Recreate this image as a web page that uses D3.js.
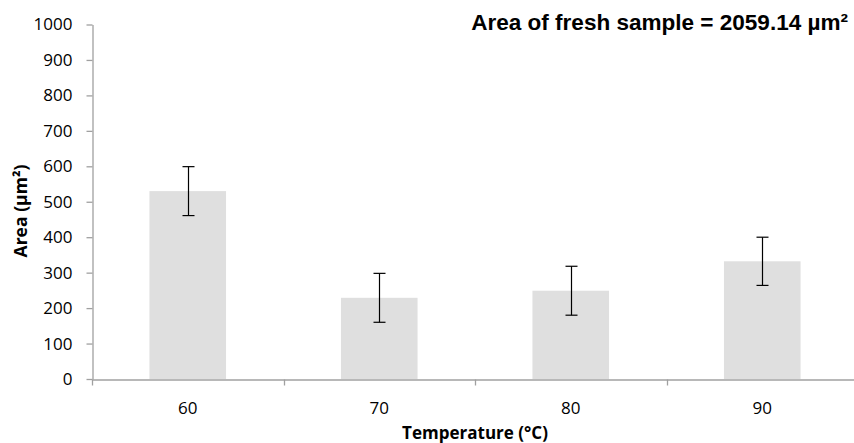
<!DOCTYPE html>
<html lang="en">
    <head>
        <meta charset="utf-8">
        <title>Area vs Temperature</title>
        <script src="https://cdn.jsdelivr.net/npm/d3@7"></script>
        <style>
            body { margin: 0; background: #fff; }
            svg text { fill: #000; }
        </style>
    </head>
    <body>
        <div id="svg-container"></div>
        <script>
            // data
            const temps = ["60", "70", "80", "90"];
            const areas = [530, 229, 249, 332];
            const errors = [69, 69, 69, 68];
            const yTicks = [0, 100, 200, 300, 400, 500, 600, 700, 800, 900, 1000];

            const width = 854,
                  height = 443,
                  marginLeft = 92,
                  plotTop = 24.5,
                  plotBottom = 379;

            const tickFont = "'Open Sans', Lato, sans-serif";

            const svg = d3.select("#svg-container")
                .append("svg")
                .attr("width", width)
                .attr("height", height);

            // scale a text's font size so it spans the width seen in the picture
            function fitText(sel, target) {
                const len = sel.node().getComputedTextLength();
                const size = parseFloat(sel.attr("font-size"));
                sel.attr("font-size", size * target / len);
            }

            // band step of ~191.5px, bars take 40% of it
            const xScale = d3.scaleBand()
                .domain(temps)
                .range([marginLeft, marginLeft + 4 * 191.5])
                .paddingInner(0.6)
                .paddingOuter(0.3);

            const yScale = d3.scaleLinear()
                .domain([0, 1000])
                .range([plotBottom, plotTop]);

            const axisColor = "#a0a0a0";

            // bars
            svg.selectAll("rect.bar")
                .data(areas)
                .enter()
                .append("rect")
                .attr("class", "bar")
                .attr("x", (d, i) => xScale(temps[i]))
                .attr("y", d => yScale(d))
                .attr("width", xScale.bandwidth())
                .attr("height", d => yScale(0) - yScale(d))
                .attr("fill", "#dfdfdf");

            // error bars
            const errG = svg.append("g")
                .attr("stroke", "#000")
                .attr("stroke-width", 1.2);

            areas.forEach((d, i) => {
                const cx = Math.round(xScale(temps[i]) + xScale.bandwidth() / 2) + 0.5;
                const hi = yScale(d + errors[i]),
                      lo = yScale(d - errors[i]);
                errG.append("line").attr("x1", cx).attr("x2", cx).attr("y1", hi).attr("y2", lo);
                errG.append("line").attr("x1", cx - 6).attr("x2", cx + 6).attr("y1", hi).attr("y2", hi);
                errG.append("line").attr("x1", cx - 6).attr("x2", cx + 6).attr("y1", lo).attr("y2", lo);
            });

            // y axis
            const yAxis = d3.axisLeft(yScale)
                .tickValues(yTicks)
                .tickFormat(d3.format("d"))
                .tickSize(6)
                .tickPadding(14)
                .tickSizeOuter(0);

            const yG = svg.append("g")
                .attr("transform", "translate(" + (marginLeft + 0.5) + ",0)")
                .call(yAxis);
            yG.select(".domain").attr("stroke", axisColor).attr("stroke-width", 1.3);
            yG.selectAll(".tick line").attr("stroke", axisColor).attr("stroke-width", 1.3);
            yG.selectAll(".tick text")
                .attr("font-family", tickFont)
                .attr("font-size", 17)
                .attr("fill", "#000");

            // x axis: ticks sit on band edges
            const xAxis = d3.axisBottom(xScale)
                .tickSize(0)
                .tickPadding(22)
                .tickSizeOuter(0);

            const xG = svg.append("g")
                .attr("transform", "translate(0," + (plotBottom + 0.5) + ")")
                .call(xAxis);
            xG.select(".domain").attr("stroke", axisColor).attr("stroke-width", 1.3);
            xG.selectAll(".tick text")
                .attr("font-family", tickFont)
                .attr("font-size", 17)
                .attr("fill", "#000");

            const step = xScale.step();
            const edges = d3.range(temps.length + 1).map(i => marginLeft + i * step);
            xG.selectAll("line.edge")
                .data(edges)
                .enter()
                .append("line")
                .attr("class", "edge")
                .attr("x1", d => Math.round(d) + 0.5)
                .attr("x2", d => Math.round(d) + 0.5)
                .attr("y1", 0)
                .attr("y2", 6)
                .attr("stroke", axisColor)
                .attr("stroke-width", 1.3);

            // axis titles
            const xTitle = svg.append("text")
                .attr("x", 475)
                .attr("y", 439)
                .attr("text-anchor", "middle")
                .attr("font-family", tickFont)
                .attr("font-weight", "bold")
                .attr("font-size", 16)
                .text("Temperature (°C)");
            fitText(xTitle, 146);

            const yTitle = svg.append("text")
                .attr("transform", "translate(27,211) rotate(-90)")
                .attr("text-anchor", "middle")
                .attr("font-family", tickFont)
                .attr("font-weight", "bold")
                .attr("font-size", 16)
                .text("Area (µm²)");
            fitText(yTitle, 93);

            // annotation
            const note = svg.append("text")
                .attr("x", 848)
                .attr("y", 30)
                .attr("text-anchor", "end")
                .attr("font-family", "'Liberation Sans', Arial, sans-serif")
                .attr("font-weight", "bold")
                .attr("font-size", 22)
                .text("Area of fresh sample = 2059.14 µm²");
            fitText(note, 377);
        </script>
    </body>
</html>
